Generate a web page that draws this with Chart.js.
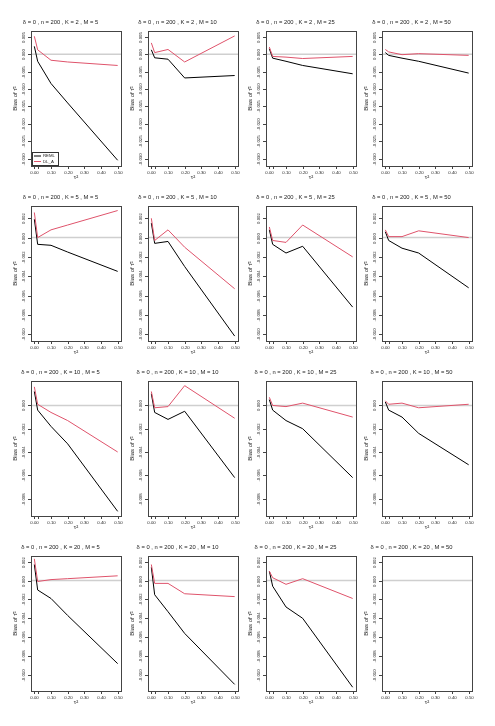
<!DOCTYPE html>
<html><head><meta charset="utf-8">
<script src="https://cdn.jsdelivr.net/npm/chart.js@4.4.0/dist/chart.umd.min.js"></script>
<style>
html,body{margin:0;padding:0;background:#fff;}
#wrap{position:relative;width:495px;height:726px;overflow:hidden;background:#fff;}
canvas{position:absolute;}
</style></head><body><div id="wrap"></div>
<script>
// ---- data ----
const tau2 = [0, 0.02, 0.1, 0.2, 0.5];
const xTickValues = [0, 0.02, 0.1, 0.2, 0.3, 0.4, 0.5];
const Ks = [2, 5, 10, 20];
const Ms = [5, 10, 25, 50];

const yTicksRow1 = [0.005, 0, -0.005, -0.010, -0.015, -0.020, -0.025, -0.030];
const yTicksRow2 = [0.002, 0, -0.002, -0.004, -0.006, -0.008, -0.010];
const yTicksRow3 = [0, -0.002, -0.004, -0.006, -0.008];
const yTicksRow4 = [0.002, 0, -0.002, -0.004, -0.006, -0.008, -0.010];
const yLimRow1 = [-0.03215, 0.00672];
const yLimRow2 = [-0.01071, 0.00327];
const yLimRow3 = [-0.0095, 0.0021];
const yLimRow4 = [-0.0117, 0.0026];

const reml_K2_M5  = [0.0023, -0.0020, -0.0084, -0.0140, -0.0305];
const dl_K2_M5    = [0.0052, 0.0013, -0.0017, -0.0022, -0.0032];
const reml_K2_M10 = [0.0013, -0.0010, -0.0014, -0.0068, -0.0061];
const dl_K2_M10   = [0.0033, 0.0005, 0.0014, -0.0022, 0.0053];
const reml_K2_M25 = [0.0016, -0.0011, -0.0020, -0.0032, -0.0056];
const dl_K2_M25   = [0.0021, -0.0006, -0.0008, -0.0012, -0.0006];
const reml_K2_M50 = [0.0005, -0.0003, -0.0011, -0.0020, -0.0054];
const dl_K2_M50   = [0.0014, 0.0007, -0.0001, 0.0002, -0.0003];

const reml_K5_M5  = [0.0019, -0.0007, -0.0008, -0.0015, -0.0035];
const dl_K5_M5    = [0.0026, 0.0000, 0.0008, 0.0013, 0.0028];
const reml_K5_M10 = [0.0015, -0.0006, -0.0004, -0.0030, -0.0102];
const dl_K5_M10   = [0.0020, -0.0003, 0.0008, -0.0010, -0.0053];
const reml_K5_M25 = [0.0008, -0.0007, -0.0016, -0.0009, -0.0072];
const dl_K5_M25   = [0.0011, -0.0003, -0.0005, 0.0013, -0.0020];
const reml_K5_M50 = [0.0006, -0.0003, -0.0011, -0.0016, -0.0052];
const dl_K5_M50   = [0.0008, 0.0001, 0.0001, 0.0007, 0.0000];

const reml_K10_M5  = [0.0012, -0.0004, -0.0018, -0.0033, -0.0091];
const dl_K10_M5    = [0.0016, 0.0001, -0.0006, -0.0013, -0.0040];
const reml_K10_M10 = [0.0010, -0.0006, -0.0012, -0.0005, -0.0062];
const dl_K10_M10   = [0.0012, -0.0002, -0.0001, 0.0017, -0.0011];
const reml_K10_M25 = [0.0005, -0.0004, -0.0013, -0.0020, -0.0062];
const dl_K10_M25   = [0.0007, 0.0000, -0.0001, 0.0002, -0.0010];
const reml_K10_M50 = [0.0003, -0.0004, -0.0010, -0.0024, -0.0051];
const dl_K10_M50   = [0.0004, 0.0001, 0.0002, -0.0002, 0.0001];

const reml_K20_M5  = [0.0017, -0.0010, -0.0019, -0.0037, -0.0088];
const dl_K20_M5    = [0.0023, -0.0001, 0.0001, 0.0002, 0.0005];
const reml_K20_M10 = [0.0014, -0.0015, -0.0033, -0.0056, -0.0110];
const dl_K20_M10   = [0.0017, -0.0003, -0.0003, -0.0014, -0.0017];
const reml_K20_M25 = [0.0010, -0.0006, -0.0028, -0.0040, -0.0113];
const dl_K20_M25   = [0.0010, 0.0003, -0.0004, 0.0002, -0.0019];
const reml_K20_M50 = [];
const dl_K20_M50   = [];

// ---- lookup tables built from the arrays ----
const remlRows = [
  [reml_K2_M5, reml_K2_M10, reml_K2_M25, reml_K2_M50],
  [reml_K5_M5, reml_K5_M10, reml_K5_M25, reml_K5_M50],
  [reml_K10_M5, reml_K10_M10, reml_K10_M25, reml_K10_M50],
  [reml_K20_M5, reml_K20_M10, reml_K20_M25, reml_K20_M50]
];
const dlRows = [
  [dl_K2_M5, dl_K2_M10, dl_K2_M25, dl_K2_M50],
  [dl_K5_M5, dl_K5_M10, dl_K5_M25, dl_K5_M50],
  [dl_K10_M5, dl_K10_M10, dl_K10_M25, dl_K10_M50],
  [dl_K20_M5, dl_K20_M10, dl_K20_M25, dl_K20_M50]
];
const yTicksRows = [yTicksRow1, yTicksRow2, yTicksRow3, yTicksRow4];
const yLimRows = [yLimRow1, yLimRow2, yLimRow3, yLimRow4];

// ---- layout ----
const colBoxLeft = [31, 148, 266, 382];
const rowBoxTop = [31, 206, 381, 556];
const LEFT = 31, TOP = 31, PW = 90, PH = 135, BOTTOM = 16;
const CW = LEFT + PW + LEFT, CH = TOP + PH + BOTTOM;

Chart.defaults.font.family = "'Liberation Sans', Arial, Helvetica, sans-serif";
Chart.defaults.color = '#000';

const RED = '#DF536B';
const tickFont = "4.3px 'Liberation Sans', Arial, sans-serif";

const rAxes = {
  id: 'rAxes',
  beforeDatasetsDraw(chart) {
    const {ctx, chartArea: a, scales: {y}} = chart;
    const y0 = y.getPixelForValue(0);
    ctx.save();
    ctx.beginPath(); ctx.rect(a.left, a.top, a.right - a.left, a.bottom - a.top); ctx.clip();
    ctx.strokeStyle = '#cfcfcf'; ctx.lineWidth = 1.5;
    ctx.beginPath(); ctx.moveTo(a.left, y0); ctx.lineTo(a.right, y0); ctx.stroke();
    ctx.restore();
  },
  afterDraw(chart) {
    const {ctx, chartArea: a, scales: {x, y}} = chart;
    const o = chart.options.plugins.rAxes;
    ctx.save();
    // box
    ctx.strokeStyle = '#444'; ctx.lineWidth = 1;
    ctx.strokeRect(Math.round(a.left) + 0.5, Math.round(a.top) + 0.5, Math.round(a.right - a.left), Math.round(a.bottom - a.top));
    // y ticks
    ctx.fillStyle = '#222'; ctx.font = tickFont;
    o.yTicks.forEach(v => {
      const py = Math.round(y.getPixelForValue(v)) + 0.5;
      ctx.beginPath(); ctx.moveTo(a.left - 3, py); ctx.lineTo(a.left, py); ctx.stroke();
      ctx.save();
      ctx.translate(a.left - 7, py); ctx.rotate(-Math.PI / 2);
      ctx.textAlign = 'center'; ctx.textBaseline = 'middle';
      ctx.fillText(v.toFixed(3), 0, 0);
      ctx.restore();
    });
    // x ticks
    xTickValues.forEach(v => {
      const px = Math.round(x.getPixelForValue(v)) + 0.5;
      ctx.beginPath(); ctx.moveTo(px, a.bottom); ctx.lineTo(px, a.bottom + 3); ctx.stroke();
      if (v !== 0.02) {
        ctx.textAlign = 'center'; ctx.textBaseline = 'middle';
        ctx.fillText(v.toFixed(2), px, a.bottom + 7);
      }
    });
    // legend
    if (o.legend) {
      const lx = a.left + 1, ly = a.bottom - 14;
      ctx.strokeStyle = '#333';
      ctx.strokeRect(lx + 0.5, ly + 0.5, 26, 13);
      const items = [['REML', '#000'], ['DL_A', RED]];
      items.forEach((it, i) => {
        const yy = ly + 4 + i * 5.5;
        ctx.strokeStyle = it[1]; ctx.lineWidth = 1;
        ctx.beginPath(); ctx.moveTo(lx + 2, yy); ctx.lineTo(lx + 9, yy); ctx.stroke();
        ctx.fillStyle = '#222'; ctx.textAlign = 'left'; ctx.textBaseline = 'middle';
        ctx.fillText(it[0], lx + 11, yy);
      });
    }
    ctx.restore();
  }
};

const wrap = document.getElementById('wrap');
for (let r = 0; r < 4; r++) {
  for (let c = 0; c < 4; c++) {
    const cv = document.createElement('canvas');
    cv.width = CW; cv.height = CH;
    cv.style.left = (colBoxLeft[c] - LEFT) + 'px';
    cv.style.top = (rowBoxTop[r] - TOP) + 'px';
    cv.style.width = CW + 'px'; cv.style.height = CH + 'px';
    wrap.appendChild(cv);
    const reml = remlRows[r][c], dl = dlRows[r][c];
    const pts = arr => arr.map((v, i) => ({x: tau2[i], y: v}));
    const titleSize = 5.8;
    new Chart(cv, {
      type: 'line',
      data: {datasets: [
        {label: 'DL_A', data: pts(dl), borderColor: RED, borderWidth: 1, pointRadius: 0, tension: 0, order: 0, fill: false},
        {label: 'REML', data: pts(reml), borderColor: '#000', borderWidth: 1, pointRadius: 0, tension: 0, order: 1, fill: false}
      ]},
      options: {
        responsive: false, animation: false, devicePixelRatio: 1,
        layout: {padding: {left: 0, right: LEFT, top: 0, bottom: 0}},
        events: [],
        plugins: {
          legend: {display: false}, tooltip: {enabled: false},
          title: {display: true, text: 'δ = 0 , n = 200 , K = ' + Ks[r] + ' , M = ' + Ms[c],
                  color: '#222', font: {size: titleSize, weight: 'normal'},
                  padding: {top: 19, bottom: TOP - 19 - titleSize * 1.2}},
          rAxes: {yTicks: yTicksRows[r], legend: (r === 0 && c === 0)}
        },
        scales: {
          x: {type: 'linear', min: -0.02, max: 0.52,
              grid: {display: false}, border: {display: false}, ticks: {display: false},
              afterFit: s => { s.height = BOTTOM; },
              title: {display: true, text: 'τ²', color: '#222', font: {size: 6}, padding: {top: 0, bottom: 1}}},
          y: {type: 'linear', min: yLimRows[r][0], max: yLimRows[r][1],
              grid: {display: false}, border: {display: false}, ticks: {display: false},
              afterFit: s => { s.width = LEFT; },
              title: {display: true, text: 'Bias of τ\u0302²', color: '#222', font: {size: 6}, padding: {top: 12, bottom: 0}}}
        }
      },
      plugins: [rAxes]
    });
  }
}
</script></body></html>
